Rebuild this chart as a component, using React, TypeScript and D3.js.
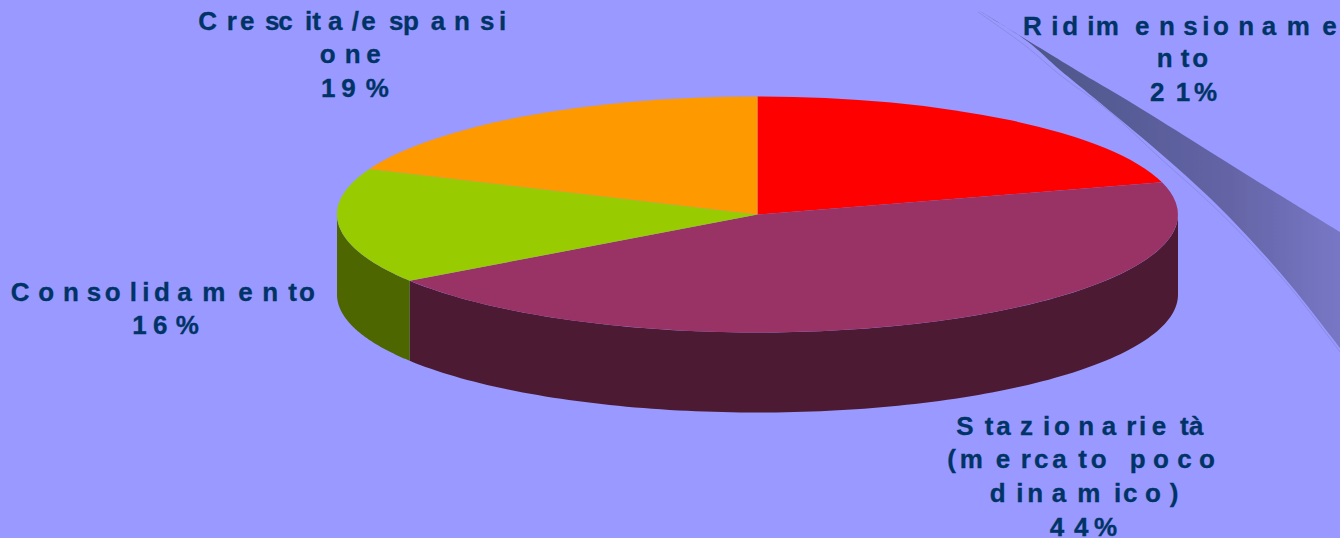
import React from "react";
import * as d3 from "d3";

const categories = ["Ridimensionamento", "Stazionarietà (mercato poco dinamico)", "Consolidamento", "Crescita/espansione"];
const values = [20.6, 44.9, 15.8, 18.7];
const topColors = ["#FF0000", "#993366", "#99CC00", "#FF9900"];
const wallColors = ["#7F0000", "#4C1A33", "#4D6600", "#804D00"];

// Wrapped label lines, with the irregular glyph placement seen in the reference.
const labelLines = [
  [
    { t: "Ridimensioname", y: 34.5, xs: [1024, 1052.3, 1063.3, 1088.3, 1096.7, 1136, 1160, 1184.3, 1203.3, 1214, 1239.3, 1262.7, 1287.7, 1323.3] },
    { t: "nto", y: 67, xs: [1157.7, 1181.7, 1193.3] },
    { t: "21%", y: 100.5, xs: [1151, 1176.7, 1195] },
  ],
  [
    { t: "Stazionarietà", y: 435, xs: [957.3, 985.7, 997.3, 1021, 1044, 1055, 1079.3, 1102.7, 1127.3, 1140, 1152.7, 1181, 1190] },
    { t: "(mercato poco", y: 468, xs: [948.3, 960.7, 996.7, 1021.7, 1035, 1053.3, 1079.3, 1091.7, 1115, 1130.7, 1154, 1178.3, 1200] },
    { t: "dinamico)", y: 501.7, xs: [990.7, 1017.3, 1028.3, 1052.7, 1078.3, 1115, 1124, 1146, 1170.7] },
    { t: "44%", y: 535.5, xs: [1050.7, 1075, 1095] },
  ],
  [
    { t: "Consolidamento", y: 301.3, xs: [11.7, 39.3, 64, 87.7, 105.7, 130.7, 143.3, 155, 178.3, 203.3, 239.3, 263.3, 289.3, 300] },
    { t: "16%", y: 334, xs: [133.3, 154, 176.7] },
  ],
  [
    { t: "Crescita/espansi", y: 30.4, xs: [199.3, 227.7, 241, 266, 279.3, 306, 313.3, 329, 352.7, 362.3, 390, 404, 431.7, 455, 481, 500] },
    { t: "one", y: 63, xs: [320.7, 345.7, 367.3] },
    { t: "19%", y: 96.5, xs: [322, 342.3, 366.7] },
  ],
];

const W = 1340, H = 538;
const cx = 757.5, cy = 214.5, rx = 420.5, ry = 118, depth = 80;

const swooshUpper: [number, number][] = [[978, 10], [1093, 80], [1127, 100], [1193, 141], [1260, 183], [1340, 232]];
const swooshLower: [number, number][] = [[978, 10], [1027, 41], [1060, 70], [1093, 97], [1160, 153], [1210, 198], [1250, 239], [1293, 288], [1340, 348]];
const swooshLine: [number, number][] = [[978, 12], [1027, 47], [1060, 75], [1110, 112], [1160, 158], [1210, 203], [1250, 243], [1293, 291], [1340, 352]];

export default function App() {
  const arcs = d3.pie<number>().sort(null)(values);
  const arc = d3.arc<d3.PieArcDatum<number>>().innerRadius(0).outerRadius(1);
  const wall = d3.area<number>()
    .x((a) => cx + rx * Math.sin(a))
    .y0((a) => cy - ry * Math.cos(a))
    .y1((a) => cy - ry * Math.cos(a) + depth);
  const walls = arcs.map((d) => {
    const a0 = Math.max(d.startAngle, Math.PI / 2);
    const a1 = Math.min(d.endAngle, (3 * Math.PI) / 2);
    if (a1 <= a0) return null;
    return wall(d3.range(0, 121).map((i) => a0 + ((a1 - a0) * i) / 120));
  });
  const curve = d3.line().curve(d3.curveCatmullRom);
  const upper = curve(swooshUpper) as string;
  const lowerBack = curve([...swooshLower].reverse()) as string;
  const swoosh = upper + "L" + lowerBack.slice(1) + "Z";
  return (
    <svg width={W} height={H} viewBox={`0 0 ${W} ${H}`} style={{ position: "absolute", left: 0, top: 0, display: "block" }}>
      <defs>
        <linearGradient id="sw" gradientUnits="userSpaceOnUse" x1="978" y1="0" x2="1340" y2="0">
          <stop offset="0" stopColor="#4A5480" />
          <stop offset="0.4" stopColor="#565C96" />
          <stop offset="0.7" stopColor="#6464A6" />
          <stop offset="1" stopColor="#7777C6" />
        </linearGradient>
        <filter id="soft" x="-5%" y="-5%" width="110%" height="110%">
          <feGaussianBlur stdDeviation="0.7" />
        </filter>
      </defs>
      <rect width={W} height={H} fill="#9999FF" />
      <path d={swoosh} fill="url(#sw)" filter="url(#soft)" />
      <path d={curve(swooshLine) as string} fill="none" stroke="#8C8CE6" strokeWidth={1} />
      {walls.map((p, i) => (p ? <path key={i} d={p} fill={wallColors[i]} /> : null))}
      <g transform={`translate(${cx},${cy}) scale(${rx},${ry})`}>
        {arcs.map((d, i) => (
          <path key={i} d={arc(d) as string} fill={topColors[i]} />
        ))}
      </g>
      {labelLines.map((lines, i) => (
        <text key={categories[i]} fontFamily="'Liberation Sans', Arial, sans-serif" fontWeight="bold" fontSize={26} fill="#003366" stroke="#003366" strokeWidth={0.3}>
          {lines.map((l, j) => (
            <tspan key={j} x={l.xs.map((v) => v - 1).join(" ")} y={l.y}>{l.t}</tspan>
          ))}
        </text>
      ))}
    </svg>
  );
}
